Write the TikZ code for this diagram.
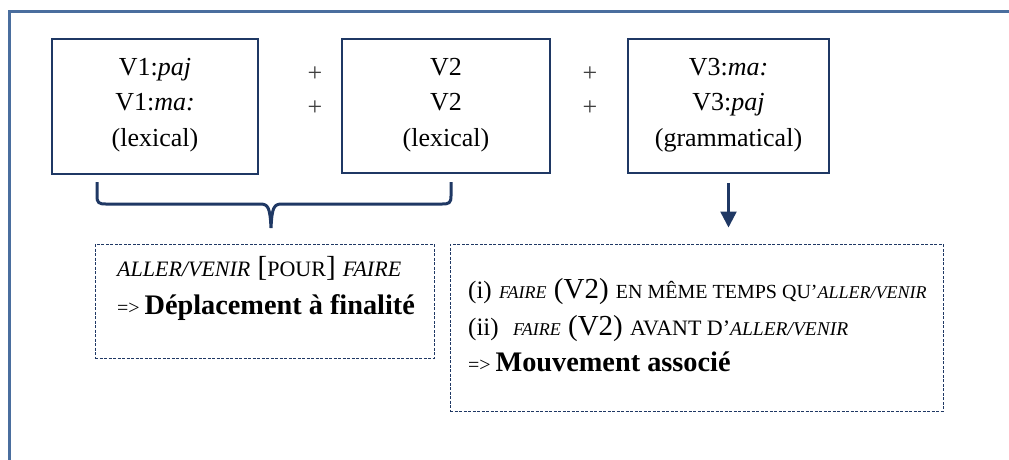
\documentclass[tikz,border=0pt]{standalone}
\usepackage{fontspec}
\setmainfont{Liberation Serif}
\usetikzlibrary{arrows.meta}
\definecolor{frameblue}{HTML}{4A6E9E}
\definecolor{navy}{HTML}{1F3864}
\definecolor{plusgray}{HTML}{404040}
\newcommand\fs[2]{{\fontsize{#1}{#1}\selectfont #2}}
\begin{document}
\begin{tikzpicture}[x=1pt,y=-1pt,
  solidbox/.style={draw=navy,line width=1.5pt,inner sep=0pt},
  dashbox/.style={draw=navy,line width=1pt,dash pattern=on 3pt off 1.5pt,inner sep=0pt},
  boxtext/.style={font=\fontsize{26}{30}\selectfont,anchor=base,inner sep=0pt},
  plus/.style={font=\fontsize{26}{30}\selectfont,text=plusgray,inner sep=0pt},
  linetext/.style={font=\fontsize{29}{30}\selectfont,anchor=base west,inner sep=0pt},
  bracepath/.style={draw=navy,line width=3pt},
  arr/.style={draw=navy,line width=2.5pt,-{Triangle[width=16pt,length=16pt]}}]
\useasboundingbox (0,0) rectangle (1009,459);
% outer frame
\draw[frameblue,line width=3pt] (9.5,470) -- (9.5,11.3) -- (1020,11.3);
% top boxes
\node[solidbox,minimum width=206pt,minimum height=135pt] (b1) at (155,106.5) {};
\node[solidbox,minimum width=208pt,minimum height=134pt] (b2) at (446,106) {};
\node[solidbox,minimum width=201pt,minimum height=134pt] (b3) at (728.5,106) {};
\node[boxtext] (b1a) at (155,75) {V1:\textit{paj}};
\node[boxtext] (b1b) at (155,110.5) {V1:\textit{ma:}};
\node[boxtext] (b1c) at (155,146) {(lexical)};
\node[boxtext] (b2a) at (446,75) {V2};
\node[boxtext] (b2b) at (446,110.5) {V2};
\node[boxtext] (b2c) at (446,146) {(lexical)};
\node[boxtext] (b3a) at (728.5,75) {V3:\textit{ma:}};
\node[boxtext] (b3b) at (728.5,110.5) {V3:\textit{paj}};
\node[boxtext] (b3c) at (728.5,146) {(grammatical)};
\node[plus] (p1) at (315,74) {+};
\node[plus] (p2) at (315,108) {+};
\node[plus] (p3) at (590,74) {+};
\node[plus] (p4) at (590,108) {+};
% dashed boxes
\node[dashbox,minimum width=339pt,minimum height=114pt] (d1) at (264.5,301) {};
\node[dashbox,minimum width=493pt,minimum height=167pt] (d2) at (696.5,327.5) {};
\node[linetext] (d1a) at (117,276) {\fs{22}{\textit{ALLER/VENIR}} [\fs{22}{POUR}] \fs{22}{\textit{FAIRE}}};
\node[linetext] (d1b) at (117,314) {\fs{20}{=>}\,\fs{28.3}{\textbf{Déplacement à finalité}}};
\node[linetext] (d2a) at (468,298) {\fs{25}{(i)} \fs{18}{\textit{FAIRE}} (V2) \fs{20}{EN MÊME TEMPS QU’}\fs{18}{\textit{ALLER/VENIR}}};
\node[linetext] (d2b) at (468,335) {\fs{25}{(ii)}\ \ \fs{18}{\textit{FAIRE}} (V2) \fs{22}{AVANT D’}\fs{19.5}{\textit{ALLER/VENIR}}};
\node[linetext] (d2c) at (468,371) {\fs{20}{=>}\,\fs{28.3}{\textbf{Mouvement associé}}};
% brace joining b1 and b2 towards d1
\coordinate (brL) at (97,182);
\coordinate (brR) at (451,182);
\coordinate (brT) at (271,228);
\draw[bracepath] (brL) -- (97,196) .. controls (97,203) and (99,204) .. (106,204)
  -- (260,204) .. controls (268,204) and (270,207) .. (brT)
  .. controls (272,207) and (274,204) .. (282,204)
  -- (442,204) .. controls (449,204) and (451,203) .. (451,196) -- (brR);
% arrow from b3 to d2
\draw[arr] ([yshift=-9pt]b3.south) -- ([yshift=16pt]b3.south |- d2.north);
\end{tikzpicture}
\end{document}
